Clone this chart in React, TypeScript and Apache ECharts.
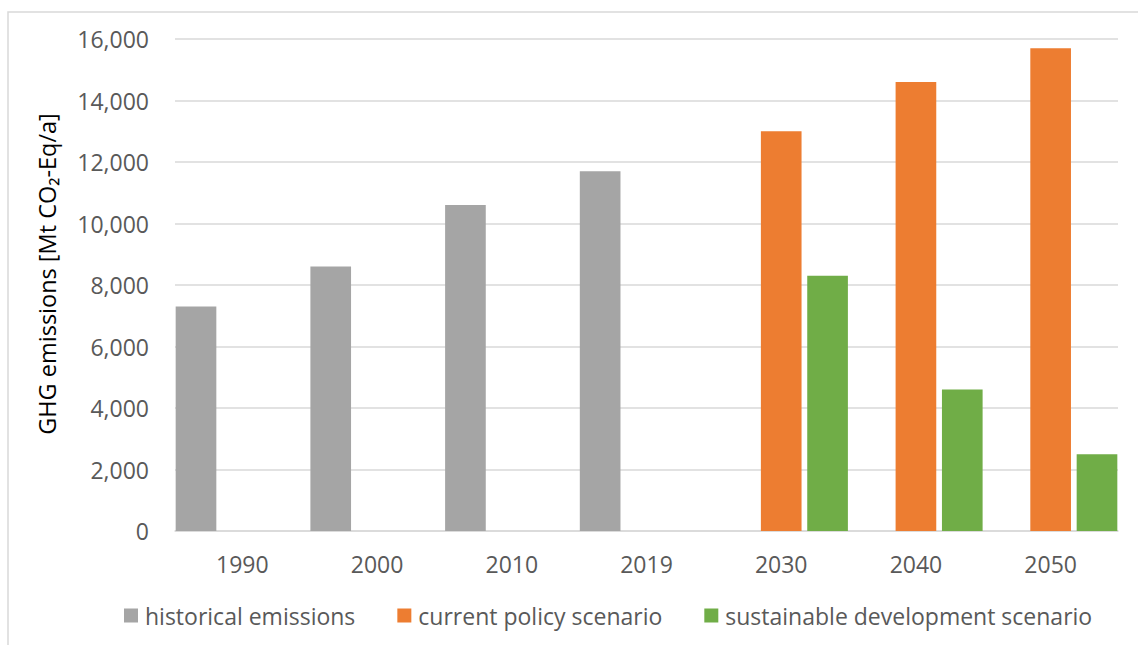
import React, { useEffect, useRef } from "react";
import * as echarts from "echarts";

const categories = ["1990", "2000", "2010", "2019", "2030", "2040", "2050"];
const historical = [7300, 8600, 10600, 11700, "-", "-", "-"];
const currentPolicy = ["-", "-", "-", "-", 13000, 14600, 15700];
const sustainable = ["-", "-", "-", "-", 8300, 4600, 2500];
const seriesNames = ["historical emissions", "current policy scenario", "sustainable development scenario"];
const yTicks = { min: 0, max: 16000, interval: 2000 };

const FONT = "'Open Sans', 'Noto Sans', sans-serif";

export default function App() {
  const ref = useRef<HTMLDivElement>(null);
  useEffect(() => {
    if (!ref.current) return;
    const chart = echarts.init(ref.current, null, { renderer: "svg" });
    chart.setOption({
      animation: false,
      backgroundColor: "#ffffff",
      textStyle: { fontFamily: FONT },
      grid: { left: 175, right: 20, top: 39, bottom: 114, containLabel: false },
      legend: {
        data: seriesNames,
        left: 119,
        top: 599,
        itemWidth: 14,
        itemHeight: 14,
        itemGap: 42,
        icon: "rect",
        textStyle: { fontFamily: FONT, fontSize: 23, color: "#595959", padding: [0, 0, 0, 2] },
      },
      xAxis: {
        type: "category",
        data: categories,
        axisTick: { show: false },
        axisLine: { lineStyle: { color: "#d9d9d9", width: 1.5 } },
        axisLabel: { fontFamily: FONT, fontSize: 23, color: "#595959", margin: 21 },
      },
      yAxis: {
        type: "value",
        min: yTicks.min,
        max: yTicks.max,
        interval: yTicks.interval,
        axisLine: { show: false },
        axisTick: { show: false },
        splitLine: { lineStyle: { color: "#d9d9d9", width: 1.5 } },
        axisLabel: {
          fontFamily: FONT,
          fontSize: 23,
          color: "#595959",
          margin: 26,
          formatter: (v: number) => v.toLocaleString("en-US"),
        },
      },
      graphic: [
        {
          type: "rect",
          shape: { x: 8, y: 12, width: 1200, height: 700 },
          style: { fill: "none", stroke: "#d9d9d9", lineWidth: 1.5 },
          silent: true,
        },
        {
          type: "text",
          x: 47,
          y: 274,
          rotation: Math.PI / 2,
          style: {
            text: "GHG emissions [Mt CO₂-Eq/a]",
            fontFamily: FONT,
            fontSize: 23.5,
            fill: "#000000",
            align: "center",
            verticalAlign: "middle",
          },
        },
      ],
      series: [
        {
          name: seriesNames[0],
          type: "bar",
          data: historical,
          itemStyle: { color: "#A5A5A5" },
          barGap: "14%",
          barCategoryGap: "1%",
        },
        {
          name: seriesNames[1],
          type: "bar",
          data: currentPolicy,
          itemStyle: { color: "#ED7D31" },
          barGap: "14%",
          barCategoryGap: "1%",
        },
        {
          name: seriesNames[2],
          type: "bar",
          data: sustainable,
          itemStyle: { color: "#70AD47" },
          barGap: "14%",
          barCategoryGap: "1%",
        },
      ],
    });
    return () => chart.dispose();
  }, []);
  return (
    <div
      ref={ref}
      style={{ position: "fixed", left: 0, top: 0, width: 1138, height: 645 }}
    />
  );
}
